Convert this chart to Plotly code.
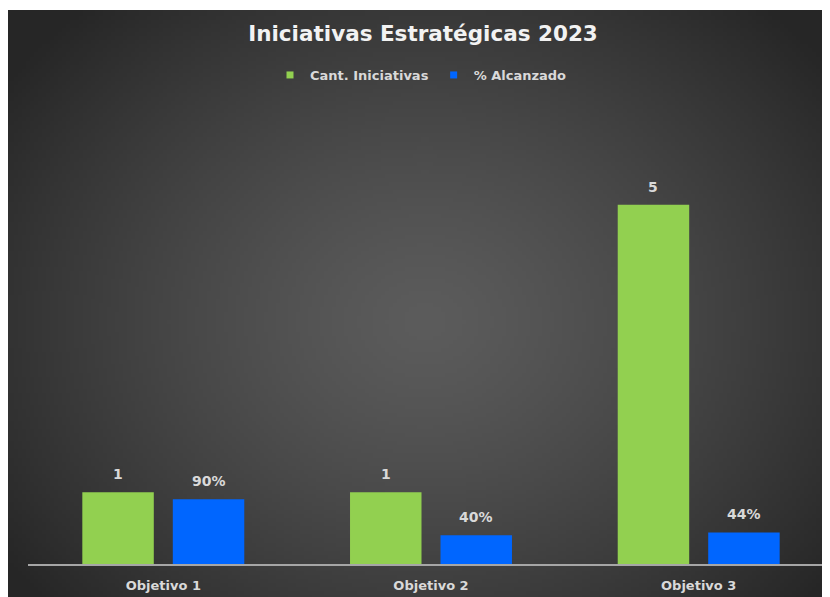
import base64, struct, zlib
import numpy as np
import plotly.graph_objects as go

# ---- data ----
categories = ["Objetivo 1", "Objetivo 2", "Objetivo 3"]
cant_iniciativas = [1, 1, 5]
pct_alcanzado = [0.90, 0.40, 0.44]
series_names = ["Cant. Iniciativas", "% Alcanzado"]
title_text = "Iniciativas Estratégicas 2023"

GREEN, BLUE = "#92d050", "#0066ff"
FONT = "DejaVu Sans"

# ---- figure geometry ----
W, H = 830, 597
ml, mr, mt, mb = 20, 0, 125, 41
pw, ph = W - ml - mr, H - mt - mb

# ---- background radial gradient image ----
w, h = 206, 147
yy, xx = np.mgrid[0:h, 0:w]
cx, cy = w * 0.5, h * 0.52
d = np.sqrt(((xx - cx) / (w * 0.62)) ** 2 + ((yy - cy) / (h * 0.72)) ** 2)
d = np.clip(d, 0, 1)
inner, outer = 92.0, 38.0
val = (inner + (outer - inner) * d ** 1.3).astype(np.uint8)
rgb = np.stack([val, val, val], axis=-1)
raw = b"".join(b"\x00" + rgb[r].tobytes() for r in range(h))

def chunk(tag, data):
    c = struct.pack(">I", len(data)) + tag + data
    return c + struct.pack(">I", zlib.crc32(tag + data) & 0xFFFFFFFF)

png = b"\x89PNG\r\n\x1a\n" + chunk(b"IHDR", struct.pack(">IIBBBBB", w, h, 8, 2, 0, 0, 0)) \
    + chunk(b"IDAT", zlib.compress(raw, 9)) + chunk(b"IEND", b"")
img_uri = "data:image/png;base64," + base64.b64encode(png).decode()

# ---- bars (category units) ----
idx = np.arange(len(categories))
bw, gap = 0.267, 0.071
off_g, off_b = -(bw + gap / 2), gap / 2

label_font = dict(family=FONT, size=14, color="#d9d9d9", weight="bold")

fig = go.Figure()
fig.add_trace(go.Bar(x=idx, y=cant_iniciativas, width=bw, offset=off_g,
                     marker=dict(color=GREEN, line=dict(width=0)),
                     name=series_names[0], showlegend=False, hoverinfo="y"))
fig.add_trace(go.Bar(x=idx, y=pct_alcanzado, width=bw, offset=off_b,
                     marker=dict(color=BLUE, line=dict(width=0)),
                     name=series_names[1], showlegend=False, hoverinfo="y"))
# legend entries (small square markers)
for nm, col in zip(series_names, [GREEN, BLUE]):
    fig.add_trace(go.Scatter(x=[None], y=[None], mode="markers", name=nm,
                             marker=dict(symbol="square", size=7, color=col)))

annotations = []
for i in idx:
    annotations.append(dict(x=i + off_g + bw / 2, y=cant_iniciativas[i], xref="x", yref="y",
                            text=str(cant_iniciativas[i]), showarrow=False,
                            yanchor="bottom", yshift=8, font=label_font))
    annotations.append(dict(x=i + off_b + bw / 2, y=pct_alcanzado[i], xref="x", yref="y",
                            text=f"{pct_alcanzado[i]:.0%}", showarrow=False,
                            yanchor="bottom", yshift=8, font=label_font))

c0 = 155.3  # pixel of first category centre (figure coords)
unit = 267.7
fig.update_layout(
    width=W, height=H,
    margin=dict(l=ml, r=mr, t=mt, b=mb, pad=0),
    paper_bgcolor="#ffffff",
    plot_bgcolor="rgba(0,0,0,0)",
    barmode="overlay",
    title=dict(text=title_text, xref="paper", x=(415 - ml) / pw, xanchor="center",
               y=1 - 25 / H, yanchor="middle",
               font=dict(family=FONT, size=21.5, color="#f2f2f2", weight="bold")),
    legend=dict(orientation="h", x=(413 - ml) / pw, xanchor="center",
                y=1 + (mt - 67) / ph, yanchor="middle",
                font=dict(family=FONT, size=13, color="#d9d9d9", weight="bold"),
                bgcolor="rgba(0,0,0,0)", itemwidth=30, traceorder="normal",
                itemclick=False, itemdoubleclick=False),
    xaxis=dict(range=[-(c0 - ml) / unit, (W - c0) / unit], tickmode="array",
               tickvals=idx, ticktext=categories,
               showgrid=False, zeroline=False, showline=True, linecolor="#a6a6a6", linewidth=1.5,
               ticks="", tickfont=dict(family=FONT, size=13, color="#d9d9d9", weight="bold"),
               ticklabelstandoff=9, fixedrange=True),
    yaxis=dict(range=[0, 6], visible=False, showgrid=False, zeroline=False, fixedrange=True),
    annotations=annotations,
    images=[dict(source=img_uri, xref="paper", yref="paper",
                 x=-ml / pw, y=1 + (mt - 2) / ph, sizex=W / pw, sizey=(H - 2) / ph,
                 xanchor="left", yanchor="top", sizing="stretch", layer="below")],
)

fig.write_html("out.html")
